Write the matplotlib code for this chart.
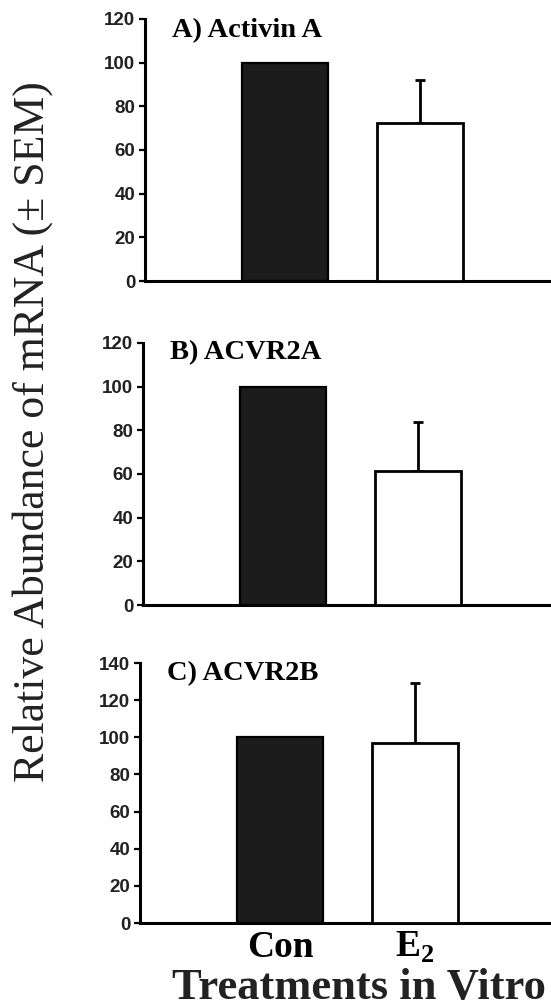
import numpy as np
import matplotlib.pyplot as plt

# Relative mRNA abundance, Con vs E2 (upper SEM only)
groups = ["Con", "E$_\\mathregular{2}$"]
panel_titles = ["A) Activin A", "B) ACVR2A", "C) ACVR2B"]
con_vals = [100, 100, 100]
e2_vals = [72.5, 61.5, 97]
e2_sem = [19.5, 22.5, 32]
y_max = [120, 120, 140]

# axes boxes in pixels: left, top(px from top), zero line(px from top)
boxes = [(145, 19, 281), (143, 343, 605), (140, 663, 923)]

W, H = 551, 1008
fig = plt.figure(figsize=(W / 100, H / 100), dpi=100)

px_per_unit = 135.0
x = np.array([1.0, 2.0])
bw = 0.63

for i in range(3):
    left, top, zero = boxes[i]
    ax = fig.add_axes([left / W, 1 - zero / H, 1 - left / W, (zero - top) / H])
    ax.bar(x[0], con_vals[i], width=bw, color="#1c1c1c", edgecolor="black",
           linewidth=1.6, zorder=3)
    ax.bar(x[1], e2_vals[i], width=bw, color="white", edgecolor="black",
           linewidth=2.0, zorder=3)
    ax.errorbar(x[1], e2_vals[i], yerr=[[0], [e2_sem[i]]], fmt="none",
                ecolor="black", elinewidth=2.0, capsize=3.6, capthick=2.0, zorder=2)

    x0 = 1 - 140 / px_per_unit
    ax.set_xlim(x0, x0 + (W - left) / px_per_unit)
    ax.set_ylim(0, y_max[i])
    ax.set_yticks(np.arange(0, y_max[i] + 1, 20))
    ax.spines["top"].set_visible(False)
    ax.spines["right"].set_visible(False)
    ax.spines["left"].set_linewidth(2.2)
    ax.spines["bottom"].set_linewidth(2.2)
    ax.spines["left"].set_capstyle("projecting")
    ax.tick_params(axis="y", direction="out", length=4, width=1.6, pad=3,
                   labelsize=13.5)
    for lab in ax.get_yticklabels():
        lab.set_fontfamily("Liberation Sans")
        lab.set_fontweight("bold")
        lab.set_color("#222222")
    ax.patch.set_alpha(0)
    ax.text(27 / (W - left), [0.954, 0.962, 0.958][i], panel_titles[i],
            transform=ax.transAxes, ha="left", va="center",
            fontfamily="Liberation Serif", fontweight="bold", fontsize=20.5)
    if i < 2:
        ax.set_xticks([])
    else:
        ax.set_xticks(x)
        ax.set_xticklabels(groups, fontfamily="Liberation Serif",
                           fontweight="bold", fontsize=27)
        ax.tick_params(axis="x", length=0, pad=5)

fig.text(33 / W, 1 - 432 / H, "Relative Abundance of mRNA (\u00b1 SEM)",
         rotation=90, ha="center", va="center",
         fontfamily="Liberation Serif", fontsize=31.5, color="#222222")
fig.text(359 / W, 1 - 988 / H, "Treatments in Vitro", ha="center", va="center",
         fontfamily="Liberation Serif", fontweight="bold", fontsize=32,
         color="#222222")

fig.savefig("out.png", dpi=100)
